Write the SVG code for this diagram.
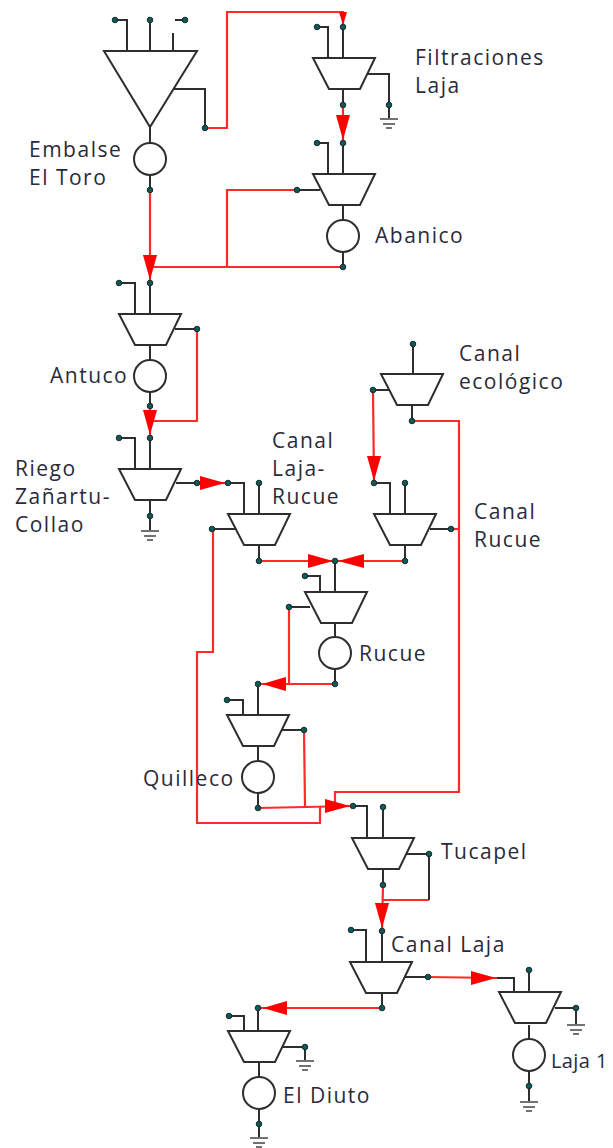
<svg xmlns="http://www.w3.org/2000/svg" width="613" height="1148" viewBox="0 0 613 1148">
<style>
.k{fill:none;stroke:#2e2e2e;stroke-width:2}
.g{fill:none;stroke:#444;stroke-width:1.5}
.s{fill:#fff;stroke:#2e2e2e;stroke-width:2}
.r{fill:none;stroke:#ff2a2a;stroke-width:2.2}
.h{fill:#ff0000;stroke:none}
.t{font-family:"Open Sans","Noto Sans",sans-serif;font-size:21px;letter-spacing:1.5px;fill:#2a2a3a}
.n{font-size:20px;letter-spacing:.4px}
</style>
<defs>
<circle id="d" r="2.8" fill="#0b5a5a" stroke="#1c2c2c" stroke-width="1"/>
<path id="tz" class="s" d="M-31 0H31L16 31H-15Z"/>
<path id="g" class="g" d="M-9 0H9M-6 5H6M-3 9H3"/>
<path id="ad" class="h" d="M-7 0H7L0 25Z"/>
</defs>
<g id="connectors">
<path class="r" d="M205 128H227V12H343V27"/>
<path class="r" d="M343 105V143"/>
<path class="r" d="M297 190H227V267"/>
<path class="r" d="M343 267H150"/>
<path class="r" d="M150 190V283"/>
<path class="r" d="M197 329V421H150"/>
<path class="r" d="M150 406V438"/>
<path class="r" d="M197 483H228"/>
<path class="r" d="M373 390L374 483"/>
<path class="r" d="M412 421H459V792H335V806"/>
<path class="r" d="M451 529H459"/>
<path class="r" d="M259 561H405"/>
<path class="r" d="M212 529H213V652H197V823H320V806"/>
<path class="r" d="M289 607V684"/>
<path class="r" d="M335 684H258"/>
<path class="r" d="M304 730L305 806"/>
<path class="r" d="M258 808L353 806"/>
<path class="r" d="M383 885L382 931"/>
<path class="r" d="M429 900H383"/>
<path class="k" d="M429 854V900"/>
<path class="r" d="M428 977L497 978"/>
<path class="r" d="M382 1008H258"/>
<path class="h" d="M339 12H347L343 25Z"/>
<use href="#ad" x="343" y="115"/>
<use href="#ad" x="150" y="255"/>
<use href="#ad" x="150" y="410"/>
<use href="#ad" x="374" y="456"/>
<use href="#ad" x="382" y="903"/>
<path class="h" d="M200 476V490L225 483Z"/>
<path class="h" d="M308 554V568L333 561Z"/>
<path class="h" d="M364 554V568L338 561Z"/>
<path class="h" d="M286 677V691L262 684Z"/>
<path class="h" d="M325 799V813L350 806Z"/>
<path class="h" d="M471 971V985L496 978Z"/>
<path class="h" d="M287 1001V1015L263 1008Z"/>
</g>
<g id="embalse-el-toro">
<path class="k" d="M115 20H127V51M150 20V51M173 33V51M175 20H185M174 89H205V128M150 127V143M150 175V190"/>
<path class="s" d="M104 51H197L150 127Z"/>
<circle class="s" cx="150" cy="159" r="16"/>
<use href="#d" x="115" y="20"/><use href="#d" x="150" y="20"/><use href="#d" x="185" y="20"/><use href="#d" x="205" y="128"/><use href="#d" x="150" y="190"/>
<text class="t" x="29" y="157">Embalse</text><text class="t" x="29" y="185">El Toro</text>
</g>
<g id="filtraciones-laja">
<path class="k" d="M317 27H328V58M343 27V58M343 89V105M368 74H389V118"/>
<use href="#tz" x="344" y="58"/>
<use href="#g" x="389" y="119"/>
<use href="#d" x="317" y="27"/><use href="#d" x="343" y="27"/><use href="#d" x="343" y="105"/><use href="#d" x="389" y="105"/>
<text class="t" x="415" y="65">Filtraciones</text><text class="t" x="415" y="93">Laja</text>
</g>
<g id="abanico">
<path class="k" d="M317 143H328V174M343 143V174M297 190H320M343 205V220M343 252V267"/>
<use href="#tz" x="344" y="174"/>
<circle class="s" cx="343" cy="236" r="16"/>
<use href="#d" x="317" y="143"/><use href="#d" x="343" y="143"/><use href="#d" x="297" y="190"/><use href="#d" x="343" y="267"/>
<text class="t" x="375" y="243">Abanico</text>
</g>
<g id="antuco">
<path class="k" d="M119 283H135V314M150 283V314M175 329H197M150 345V360M150 392V406"/>
<use href="#tz" x="150" y="314"/>
<circle class="s" cx="150" cy="376" r="16"/>
<use href="#d" x="119" y="283"/><use href="#d" x="150" y="283"/><use href="#d" x="197" y="329"/><use href="#d" x="150" y="406"/>
<text class="t" x="50" y="383">Antuco</text>
</g>
<g id="riego-zanartu-collao">
<path class="k" d="M119 438H135V469M150 438V469M176 483H197M150 500V530"/>
<use href="#tz" x="150" y="469"/>
<use href="#g" x="150" y="531"/>
<use href="#d" x="119" y="438"/><use href="#d" x="150" y="438"/><use href="#d" x="197" y="483"/><use href="#d" x="150" y="516"/>
<text class="t" x="15" y="476">Riego</text><text class="t" x="15" y="504">Zañartu-</text><text class="t" x="15" y="532">Collao</text>
</g>
<g id="canal-laja-rucue">
<path class="k" d="M228 483H244V514M259 483V514M212 529H235M259 545V561"/>
<use href="#tz" x="259" y="514"/>
<use href="#d" x="228" y="483"/><use href="#d" x="259" y="483"/><use href="#d" x="212" y="529"/><use href="#d" x="259" y="561"/>
<text class="t" x="272" y="448">Canal</text><text class="t" x="272" y="476">Laja-</text><text class="t" x="272" y="504">Rucue</text>
</g>
<g id="canal-ecologico">
<path class="k" d="M413 344V374M373 390H389M412 405V421"/>
<use href="#tz" x="412" y="374"/>
<use href="#d" x="413" y="344"/><use href="#d" x="373" y="390"/><use href="#d" x="412" y="421"/>
<text class="t" x="459" y="361">Canal</text><text class="t" x="459" y="389">ecológico</text>
</g>
<g id="canal-rucue">
<path class="k" d="M374 483H390V514M405 483V514M430 529H451M405 545V561"/>
<use href="#tz" x="405" y="514"/>
<use href="#d" x="374" y="483"/><use href="#d" x="405" y="483"/><use href="#d" x="451" y="529"/><use href="#d" x="405" y="561"/>
<text class="t" x="474" y="519">Canal</text><text class="t" x="474" y="547">Rucue</text>
</g>
<g id="rucue">
<path class="k" d="M335 561V592M305 576H320V592M289 607H310M335 622V637M335 669V684"/>
<use href="#tz" x="336" y="592"/>
<circle class="s" cx="335" cy="653" r="16"/>
<use href="#d" x="335" y="561"/><use href="#d" x="305" y="576"/><use href="#d" x="289" y="607"/><use href="#d" x="335" y="684"/>
<text class="t" x="359" y="661">Rucue</text>
</g>
<g id="quilleco">
<path class="k" d="M258 684V715M227 700H243V715M282 730H304M258 746V761M258 793V808"/>
<use href="#tz" x="258" y="715"/>
<circle class="s" cx="258" cy="777" r="16"/>
<use href="#d" x="258" y="684"/><use href="#d" x="227" y="700"/><use href="#d" x="304" y="730"/><use href="#d" x="258" y="808"/>
<text class="t" x="143" y="786">Quilleco</text>
</g>
<g id="tucapel">
<path class="k" d="M353 806H367V838M383 807V838M406 854H429M383 870V885"/>
<use href="#tz" x="383" y="838"/>
<use href="#d" x="353" y="806"/><use href="#d" x="383" y="807"/><use href="#d" x="429" y="854"/><use href="#d" x="383" y="885"/>
<text class="t" x="441" y="859">Tucapel</text>
</g>
<g id="canal-laja">
<path class="k" d="M351 930H366V962M382 931V962M405 977H428M382 992V1008"/>
<use href="#tz" x="381" y="962"/>
<use href="#d" x="351" y="930"/><use href="#d" x="382" y="931"/><use href="#d" x="428" y="977"/><use href="#d" x="382" y="1008"/>
<text class="t" x="391" y="952">Canal Laja</text>
</g>
<g id="laja-1">
<path class="k" d="M497 978H514V992M529 970V992M555 1008H576V1024M529 1025V1039M529 1071V1101"/>
<use href="#tz" x="530" y="992"/>
<circle class="s" cx="529" cy="1055" r="16"/>
<use href="#g" x="576" y="1025"/><use href="#g" x="529" y="1102"/>
<use href="#d" x="529" y="970"/><use href="#d" x="576" y="1008"/><use href="#d" x="529" y="1086"/>
<text class="t n" x="551" y="1068">Laja 1</text>
</g>
<g id="el-diuto">
<path class="k" d="M258 1008V1031M229 1016H244V1031M283 1047H305V1060M259 1063V1077M259 1109V1137"/>
<use href="#tz" x="259" y="1031"/>
<circle class="s" cx="259" cy="1093" r="16"/>
<use href="#g" x="305" y="1061"/><use href="#g" x="259" y="1138"/>
<use href="#d" x="258" y="1008"/><use href="#d" x="229" y="1016"/><use href="#d" x="305" y="1047"/><use href="#d" x="259" y="1124"/>
<text class="t" x="283" y="1103">El Diuto</text>
</g>
</svg>
